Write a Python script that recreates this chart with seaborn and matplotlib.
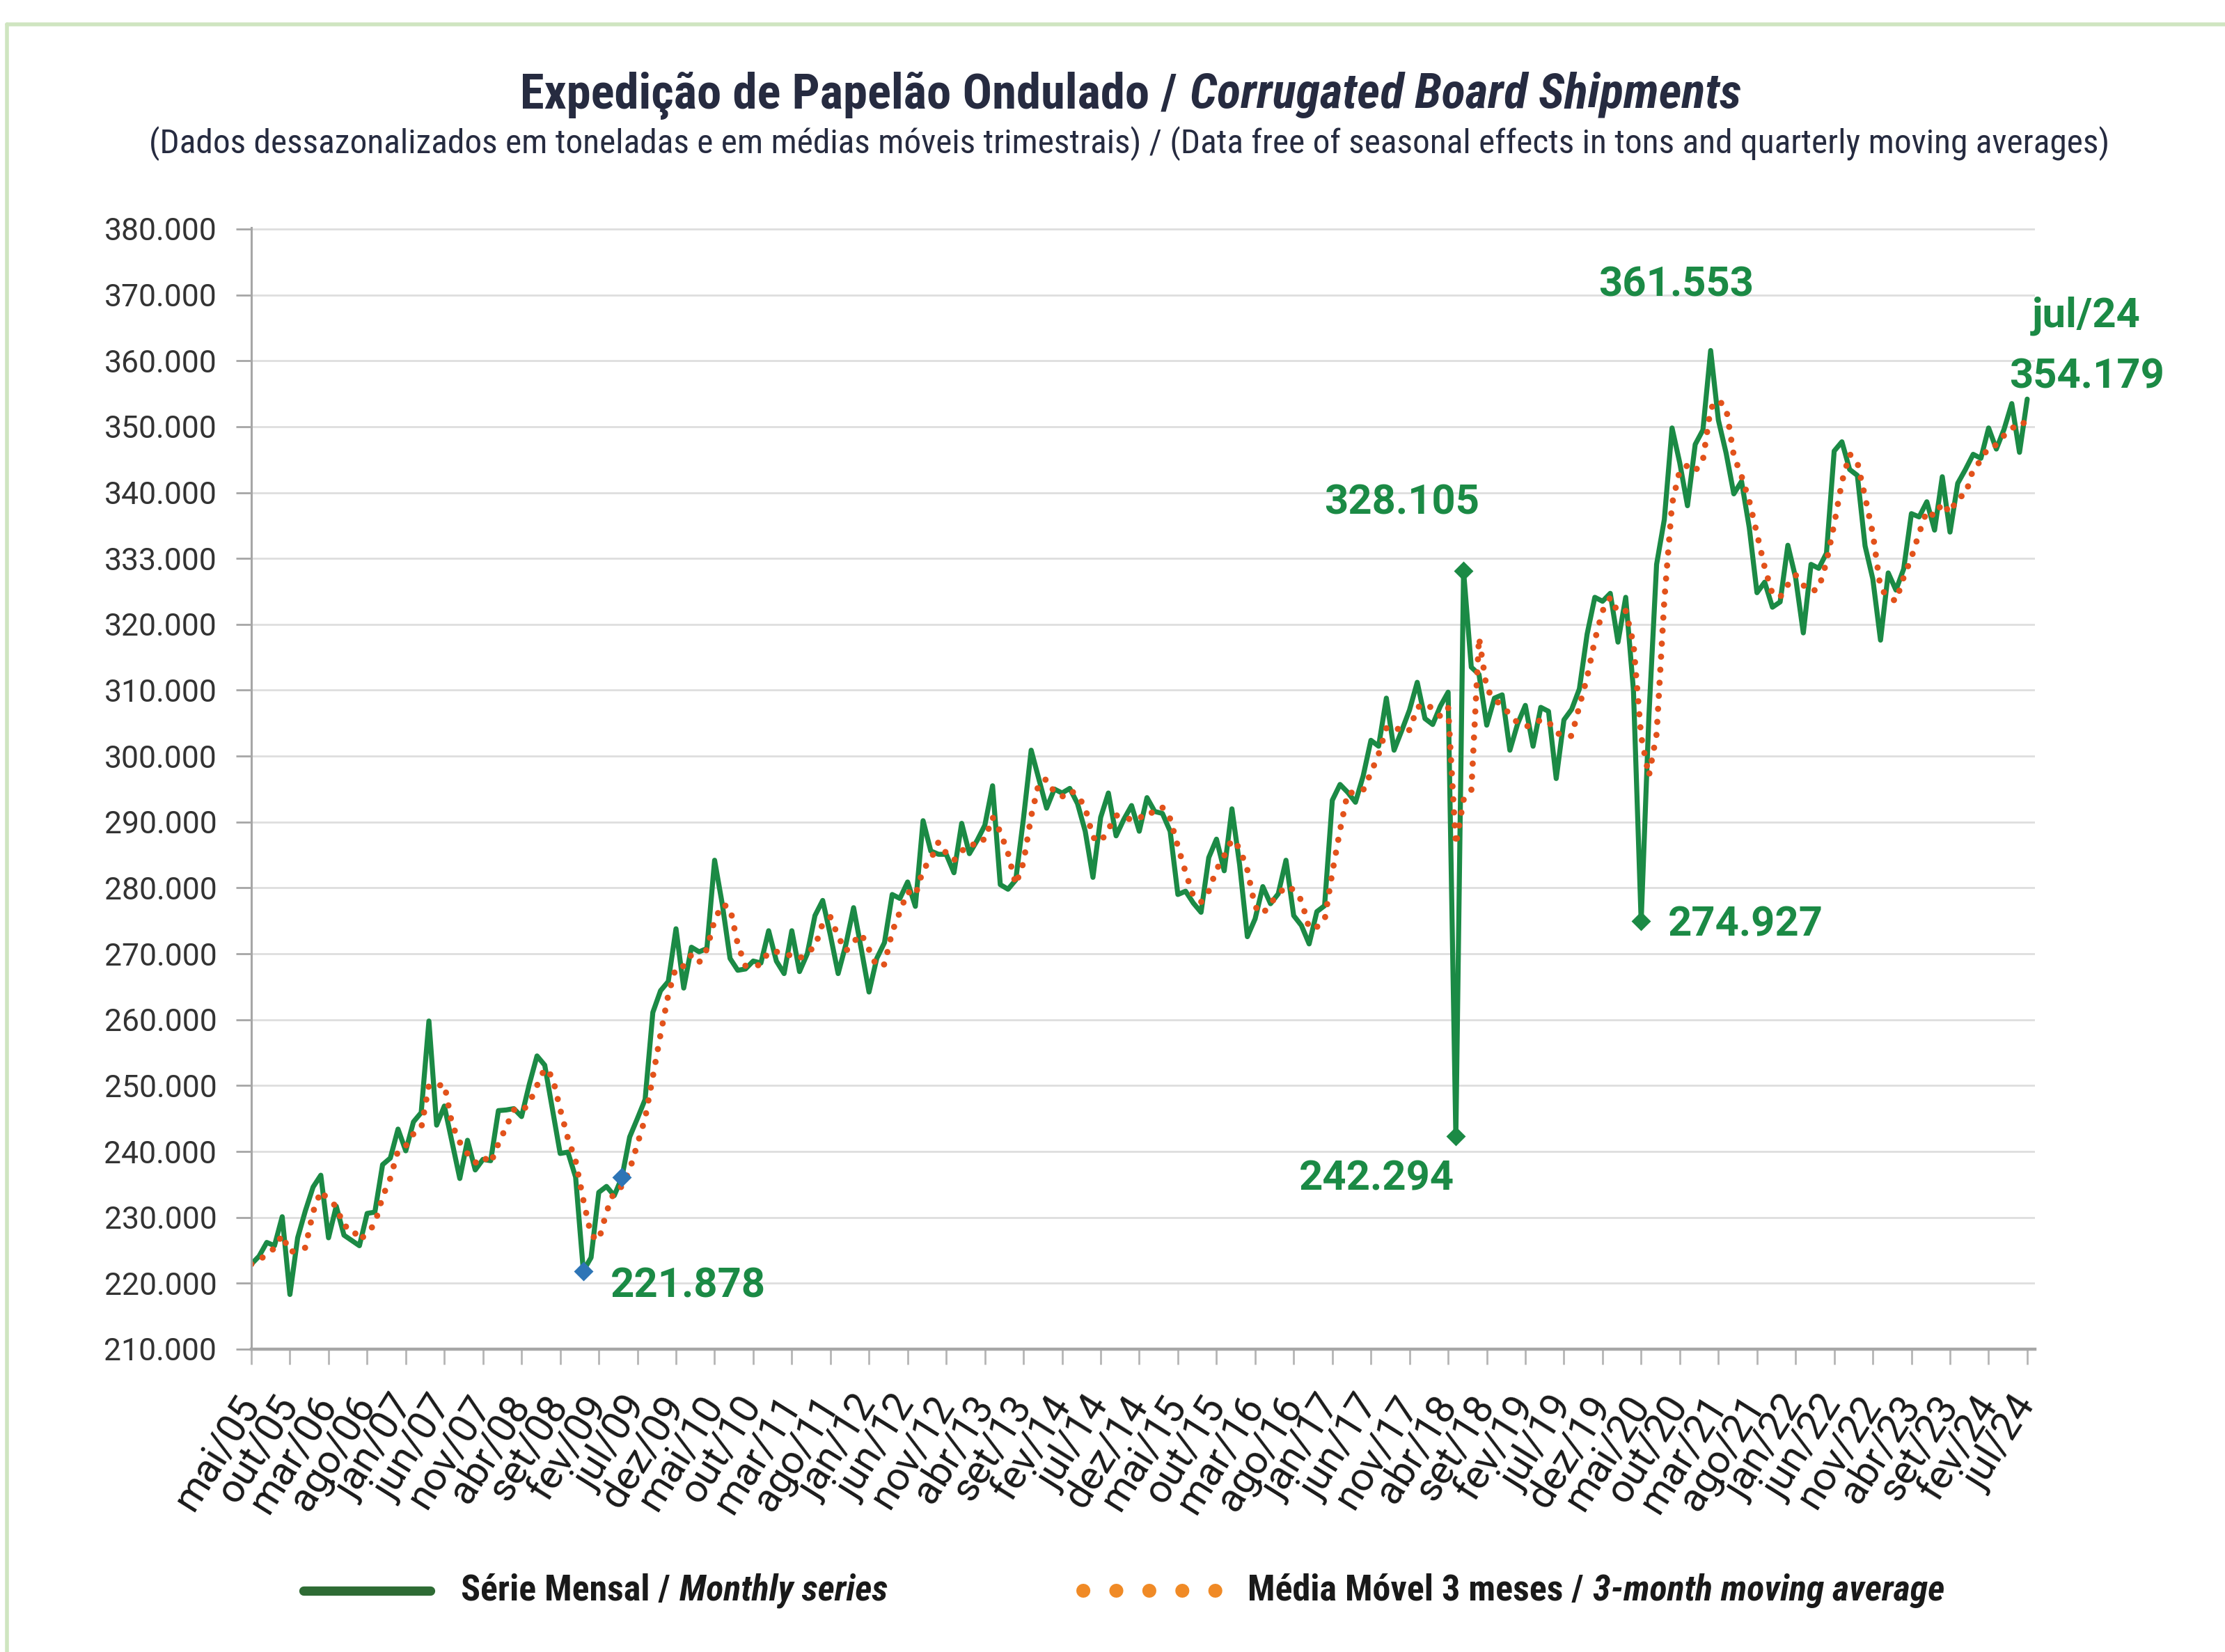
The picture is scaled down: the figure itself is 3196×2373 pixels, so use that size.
import matplotlib
matplotlib.use('Agg')
import numpy as np
import pandas as pd
import matplotlib.pyplot as plt
import seaborn as sns
from matplotlib import font_manager
from matplotlib.lines import Line2D

# Expedição de papelão ondulado, mil toneladas (dessazonalizado), mai/05 .. jul/24
shipments = [
    222.9, 224.1, 226.2, 225.7, 230.1, 218.3, 226.9, 231.0,                                  # 2005 (mai-dez)
    234.6, 236.4, 226.9, 231.7, 227.3, 226.5, 225.7, 230.6, 230.8, 238.0, 239.0, 243.4,      # 2006
    240.1, 244.5, 245.9, 259.8, 244.0, 246.9, 241.4, 235.9, 241.7, 237.2, 238.8, 238.6,      # 2007
    246.2, 246.3, 246.5, 245.3, 250.2, 254.5, 253.1, 246.4, 239.7, 239.9, 236.1, 221.878,    # 2008
    223.9, 233.8, 234.7, 233.3, 236.1, 242.2, 245.0, 247.9, 261.1, 264.4, 265.8, 273.8,      # 2009
    264.8, 271.0, 270.3, 270.8, 284.2, 277.5, 269.3, 267.5, 267.7, 268.9, 268.6, 273.5,      # 2010
    268.9, 267.0, 273.5, 267.3, 270.0, 275.8, 278.1, 272.8, 267.0, 271.4, 277.0, 270.7,      # 2011
    264.2, 269.3, 271.7, 279.0, 278.4, 280.9, 277.2, 290.2, 285.6, 285.1, 285.1, 282.3,      # 2012
    289.8, 285.2, 287.2, 289.5, 295.5, 280.5, 279.8, 281.2, 290.5, 300.9, 296.5, 292.1,      # 2013
    295.0, 294.4, 295.1, 292.8, 288.6, 281.6, 290.7, 294.4, 287.9, 290.4, 292.5, 288.6,      # 2014
    293.7, 291.6, 291.3, 288.6, 279.0, 279.5, 277.7, 276.3, 284.6, 287.4, 282.6, 292.0,      # 2015
    283.5, 272.6, 275.3, 280.2, 277.6, 279.1, 284.2, 275.8, 274.3, 271.5, 276.4, 277.3,      # 2016
    293.3, 295.7, 294.5, 293.0, 297.0, 302.4, 301.5, 308.8, 300.9, 303.9, 307.0, 311.2,      # 2017
    305.7, 304.8, 307.6, 309.7, 242.294, 328.105, 313.5, 312.4, 304.7, 308.8, 309.3, 300.9,  # 2018
    304.9, 307.7, 301.5, 307.4, 306.8, 296.6, 305.5, 307.1, 310.2, 318.5, 324.1, 323.5,      # 2019
    324.7, 317.3, 324.1, 310.0, 274.927, 306.0, 329.1, 335.9, 349.8, 344.5, 338.0, 347.3,    # 2020
    349.5, 361.553, 351.0, 346.0, 339.8, 341.7, 334.7, 324.8, 326.4, 322.6, 323.4, 332.0,    # 2021
    327.1, 318.7, 329.1, 328.5, 330.8, 346.3, 347.7, 343.5, 342.6, 331.9, 326.9, 317.6,      # 2022
    327.8, 325.2, 328.4, 336.8, 336.3, 338.6, 334.3, 342.4, 334.0, 341.4, 343.5, 345.8,      # 2023
    345.2, 349.8, 346.6, 349.6, 353.5, 346.1, 354.179,                                       # 2024 (jan-jul)
]

pt_months = ['jan', 'fev', 'mar', 'abr', 'mai', 'jun', 'jul', 'ago', 'set', 'out', 'nov', 'dez']

x_tick_labels = ['mai/05', 'out/05', 'mar/06', 'ago/06', 'jan/07', 'jun/07', 'nov/07', 'abr/08',
                 'set/08', 'fev/09', 'jul/09', 'dez/09', 'mai/10', 'out/10', 'mar/11', 'ago/11',
                 'jan/12', 'jun/12', 'nov/12', 'abr/13', 'set/13', 'fev/14', 'jul/14', 'dez/14',
                 'mai/15', 'out/15', 'mar/16', 'ago/16', 'jan/17', 'jun/17', 'nov/17', 'abr/18',
                 'set/18', 'fev/19', 'jul/19', 'dez/19', 'mai/20', 'out/20', 'mar/21', 'ago/21',
                 'jan/22', 'jun/22', 'nov/22', 'abr/23', 'set/23', 'fev/24', 'jul/24']

y_ticks = [210, 220, 230, 240, 250, 260, 270, 280, 290, 300, 310, 320, 330, 340, 350, 360, 370, 380]
y_tick_labels = ['210.000', '220.000', '230.000', '240.000', '250.000', '260.000', '270.000',
                 '280.000', '290.000', '300.000', '310.000', '320.000', '333.000', '340.000',
                 '350.000', '360.000', '370.000', '380.000']

blue_marks = ['dez/08', 'mai/09']
green_marks = ['mai/18', 'jun/18', 'mai/20']
callouts = ['dez/08', 'mai/18', 'jun/18', 'mai/20', 'fev/21', 'jul/24']

title_pt = 'Expedição de Papelão Ondulado /'
title_en = 'Corrugated Board Shipments'
subtitle = ('(Dados dessazonalizados em toneladas e em médias móveis trimestrais) / '
            '(Data free of seasonal effects in tons and quarterly moving averages)')
legend_serie = ('Série Mensal /', 'Monthly series')
legend_mm = ('Média Móvel 3 meses /', '3-month moving average')

W, H, DPI = 3196, 2373, 200
GREEN = '#1b8a45'
ORANGE = '#e2521b'
BLUE = '#2e75b6'
NAVY = '#262b40'

sns.set_style('white')
names = {f.name for f in font_manager.fontManager.ttflist}
COND = next((f for f in ['Roboto Condensed', 'Liberation Sans Narrow', 'Roboto'] if f in names), 'DejaVu Sans')
plt.rcParams['font.family'] = ['Roboto', 'DejaVu Sans']

months = [f"{pt_months[p.month - 1]}/{p.year % 100:02d}"
          for p in pd.period_range('2005-05', periods=len(shipments), freq='M')]
df = pd.DataFrame({'pos': np.arange(len(shipments)), 'month': months, 'serie': shipments})
# média móvel de 3 meses, como definida na legenda do gráfico
df['mm3'] = df['serie'].rolling(3, min_periods=1).mean()
idx = dict(zip(months, df['pos']))

fig = plt.figure(figsize=(W / DPI, H / DPI), dpi=DPI)
ax = fig.add_axes([361 / W, 1 - 1938 / H, (2923 - 361) / W, (1938 - 327) / H])

sns.lineplot(data=df, x='pos', y='serie', ax=ax, color=GREEN, linewidth=2.6,
             errorbar=None, legend=False)
sns.lineplot(data=df, x='pos', y='mm3', ax=ax, color=ORANGE, linewidth=3.2,
             linestyle=(0, (0.01, 2.1)), dash_capstyle='round', errorbar=None, legend=False)

for marks, col in [(blue_marks, BLUE), (green_marks, GREEN)]:
    sel = df[df['month'].isin(marks)]
    ax.plot(sel['pos'], sel['serie'], linestyle='none', marker='D', markersize=6,
            color=col, zorder=5)

offsets = {'dez/08': (14, -8, 'left'), 'mai/18': (-41, -22, 'center'),
           'jun/18': (-32, 35, 'center'), 'mai/20': (14, -2, 'left'),
           'fev/21': (-18, 34, 'center'), 'jul/24': (31, 11.5, 'center')}
for m in callouts:
    v = df.loc[idx[m], 'serie']
    dx, dy, ha = offsets[m]
    ax.annotate(f"{v:.3f}", xy=(idx[m], v), xytext=(dx, dy), textcoords='offset points',
                ha=ha, va='center', fontsize=21.5, fontweight='bold', color=GREEN)
last = callouts[-1]
ax.annotate(last, xy=(idx[last], df.loc[idx[last], 'serie']), xytext=(30.6, 43.2),
            textcoords='offset points', ha='center', va='center', fontsize=21.5,
            fontweight='bold', color=GREEN)

ax.set_xlim(0, 231)
ax.set_ylim(210, 380.2)
ax.set_yticks(y_ticks, y_tick_labels)
ax.set_xticks([idx[m] for m in x_tick_labels], x_tick_labels, rotation=58,
              ha='right', va='center', rotation_mode='anchor')
ax.grid(axis='y', color='#dedede', linewidth=1.0)
ax.grid(axis='x', visible=False)
ax.set_axisbelow(True)
for s in ['top', 'right']:
    ax.spines[s].set_visible(False)
ax.spines['left'].set_color('#a6a6a6')
ax.spines['left'].set_linewidth(1.1)
ax.spines['bottom'].set_color('#a6a6a6')
ax.spines['bottom'].set_linewidth(1.6)
ax.tick_params(axis='y', left=True, direction='out', length=7.9, width=1.0, color='#a6a6a6',
               pad=10, labelsize=16, labelcolor='#333333')
ax.tick_params(axis='x', bottom=True, direction='out', length=7.9, width=1.0, color='#b5b5b5',
               pad=18, labelsize=20.5, labelcolor='#1a1a1a')
ax.set_xlabel('')
ax.set_ylabel('')

renderer = fig.canvas.get_renderer()


def text_row(pieces, x_px, y_px, align='left', target_w=None, gap_em=0.25):
    texts = [fig.text(0, 1 - y_px / H, s, va='center', ha='left', **kw) for s, kw in pieces]

    def measure():
        ws = [t.get_window_extent(renderer).width for t in texts]
        gap = gap_em * texts[0].get_fontsize() * DPI / 72
        return ws, gap, sum(ws) + gap * (len(ws) - 1)

    if target_w:
        k = target_w / measure()[2]
        for t in texts:
            t.set_fontsize(t.get_fontsize() * k)
    ws, gap, total = measure()
    x0 = x_px - total / 2 if align == 'center' else x_px
    for t, w in zip(texts, ws):
        t.set_x(x0 / W)
        x0 += w + gap
    return texts


bold = dict(fontfamily=COND, fontweight='bold', fontsize=22)
text_row([(title_pt, dict(bold, color=NAVY)),
          (title_en, dict(bold, color=NAVY, fontstyle='italic'))],
         1624, 137, align='center', target_w=1753)
text_row([(subtitle, dict(fontfamily=COND, fontsize=18, color=NAVY))],
         1622, 206, align='center', target_w=2817)

# legenda
leg_y = 2285
fig.add_artist(Line2D([436 / W, 618 / W], [1 - leg_y / H] * 2, transform=fig.transFigure,
                      color='#2e6b34', linewidth=4.8, solid_capstyle='round'))
fig.add_artist(Line2D([1556 / W, 1752 / W], [1 - leg_y / H] * 2, transform=fig.transFigure,
                      color='#f08a26', linewidth=7.2, linestyle=(0, (0.01, 2.36)),
                      dash_capstyle='round'))
text_row([(legend_serie[0], dict(bold, color='#1a1a1a')),
          (legend_serie[1], dict(bold, color='#1a1a1a', fontstyle='italic'))],
         662, leg_y, target_w=614)
text_row([(legend_mm[0], dict(bold, color='#1a1a1a')),
          (legend_mm[1], dict(bold, color='#1a1a1a', fontstyle='italic'))],
         1792, leg_y, target_w=1002)

# moldura verde clara
fig.add_artist(Line2D([10 / W, 1], [1 - 35 / H] * 2, transform=fig.transFigure,
                      color='#cfe5c0', linewidth=2))
fig.add_artist(Line2D([10 / W, 10 / W], [1 - 35 / H, 0], transform=fig.transFigure,
                      color='#cfe5c0', linewidth=2))

fig.savefig('out.png', dpi=DPI, facecolor='white')
